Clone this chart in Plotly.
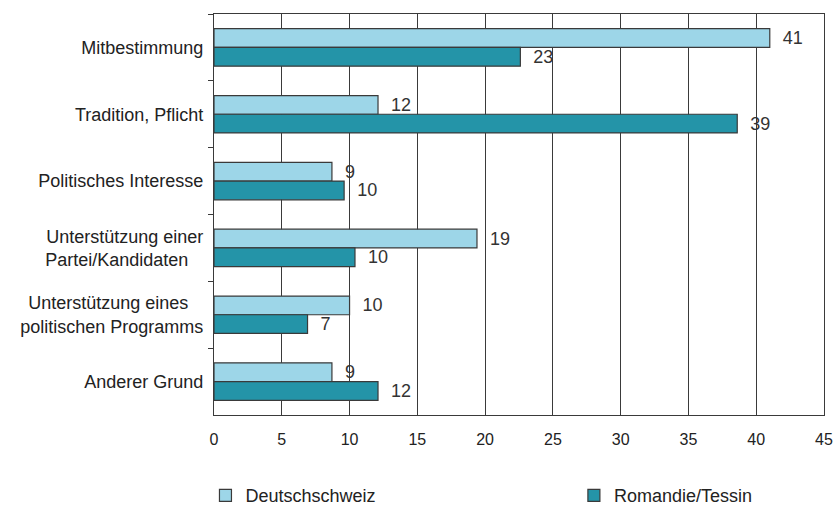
import plotly.graph_objects as go

categories = [
    "Mitbestimmung",
    "Tradition, Pflicht",
    "Politisches Interesse",
    "Unterstützung einer<br>Partei/Kandidaten\u00a0\u00a0\u00a0",
    "Unterstützung eines\u00a0\u00a0\u00a0<br>politischen Programms",
    "Anderer Grund",
]
deutschschweiz = [41.0, 12.1, 8.7, 19.4, 10.0, 8.7]
romandie_tessin = [22.6, 38.6, 9.6, 10.4, 6.9, 12.1]
series_names = ["Deutschschweiz", "Romandie/Tessin"]
x_ticks = [0, 5, 10, 15, 20, 25, 30, 35, 40, 45]

FONT = "Liberation Sans, Arial, sans-serif"
LINE = "#3a3a3a"

fig = go.Figure()
for name, vals, color, lg in [
    (series_names[0], deutschschweiz, "#9DD6E8", "legend"),
    (series_names[1], romandie_tessin, "#2494A8", "legend2"),
]:
    fig.add_trace(go.Bar(
        y=categories, x=vals, name=name, orientation="h",
        marker=dict(color=color, line=dict(color=LINE, width=1.2)),
        texttemplate="\u00a0\u00a0%{x:.0f}", textposition="outside",
        textfont=dict(family=FONT, size=18, color="#333333"),
        constraintext="none", cliponaxis=False, legend=lg,
    ))

legend_common = dict(
    orientation="h", y=-0.155, yanchor="top", xanchor="left",
    font=dict(family=FONT, size=18, color="#222222"),
    bgcolor="rgba(0,0,0,0)",
)
fig.update_layout(
    width=836, height=508,
    margin=dict(l=214, r=12, t=14, b=93, autoexpand=False),
    paper_bgcolor="white", plot_bgcolor="white",
    barmode="group", bargap=0.44, bargroupgap=0,
    font=dict(family=FONT, size=18, color="#222222"),
    showlegend=True,
    legend=dict(x=-0.014, **legend_common),
    legend2=dict(x=0.59, **legend_common),
)
fig.update_xaxes(
    range=[0, 45], tickvals=x_ticks, ticktext=[str(t) for t in x_ticks],
    showgrid=True, gridcolor=LINE, gridwidth=1,
    showline=True, linecolor=LINE, linewidth=1.2, mirror=True,
    ticks="", zeroline=False, automargin=False,
    tickfont=dict(family=FONT, size=16, color="#222222"),
    ticklabelstandoff=10,
)
fig.update_yaxes(
    autorange="reversed", showgrid=False, automargin=False,
    showline=True, linecolor=LINE, linewidth=1.2, mirror=True,
    ticks="outside", ticklen=5, tickcolor=LINE, tickson="boundaries",
    tickfont=dict(family=FONT, size=18, color="#222222"),
    ticklabelstandoff=6,
)

fig.write_html(
    "out.html",
    config={"displayModeBar": False},
    post_script="document.body.style.margin='0';document.body.style.overflow='hidden';",
)
